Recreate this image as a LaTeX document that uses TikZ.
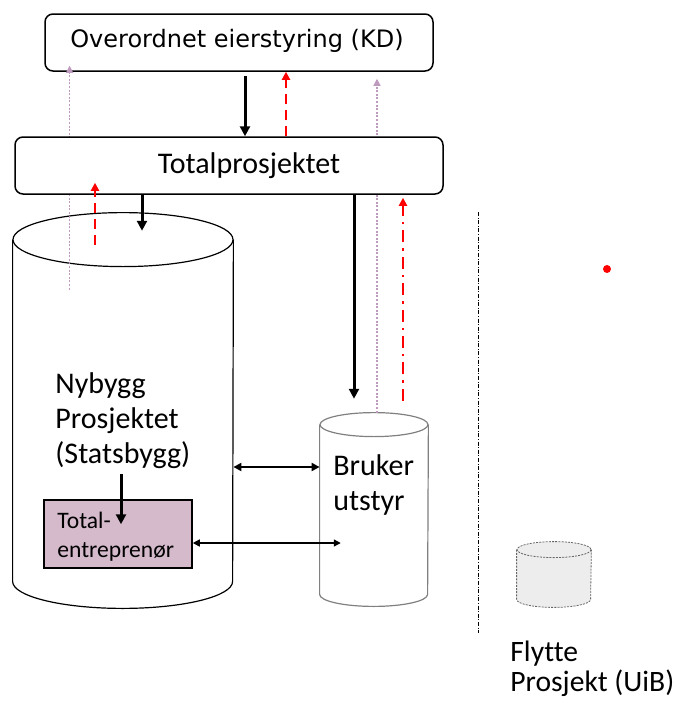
\documentclass[tikz,border=0pt]{standalone}
\usepackage{fontspec}
\setmainfont[Ligatures=NoCommon]{Carlito}
\newfontfamily\kdfont{DejaVu Sans}
\usetikzlibrary{arrows.meta}
\definecolor{infocol}{HTML}{BE9ABE}
\definecolor{tecol}{HTML}{D5BACC}

\begin{document}
\begin{tikzpicture}[x=0.5pt, y=-0.5pt,
  box/.style={draw, rounded corners=4pt, fill=white, line width=0.75pt, inner sep=0pt},
  flow/.style={line width=1.5pt, -{Triangle[length=5pt,width=5pt]}},
  back/.style={red, line width=1.2pt, dash pattern=on 5pt off 3pt, -{Triangle[length=4pt,width=4pt]}},
  backdot/.style={red, line width=1.2pt, dash pattern=on 6pt off 3pt on 1.2pt off 3pt, -{Triangle[length=4pt,width=4pt]}},
  info/.style={color=infocol, line width=0.6pt, dash pattern=on 1pt off 0.8pt, -{Triangle[length=3.5pt,width=3.5pt]}},
  link/.style={line width=1pt, {Triangle[length=4pt,width=4pt]}-{Triangle[length=4pt,width=4pt]}},
  drum/.style={inner sep=0pt},
  txt/.style={anchor=west, align=left, inner sep=0pt}]

\useasboundingbox (0,0) rectangle (680,708);

% cylinders
\node[drum, minimum width=110pt, minimum height=170.5pt] (ny) at (123,410.5) {};
\draw[line width=0.6pt, fill=white] (ny.north west) -- (ny.south west)
    arc[start angle=180, end angle=0, x radius=110, y radius=27] -- (ny.north east);
\draw[line width=0.6pt, fill=white] (ny.north) ellipse [x radius=110, y radius=27];

\node[drum, minimum width=54pt, minimum height=84.5pt] (bu) at (374,509.5) {};
\draw[gray, line width=0.6pt, fill=white] (bu.north west) -- (bu.south west)
    arc[start angle=180, end angle=0, x radius=54, y radius=12] -- (bu.north east);
\draw[gray, line width=0.6pt, fill=white] (bu.north) ellipse [x radius=54, y radius=12];

\node[drum, minimum width=37pt, minimum height=24.5pt] (uib) at (554,574.5) {};
\draw[black!60, line width=0.4pt, dash pattern=on 1pt off 0.6pt, fill=black!7] (uib.north west) -- (uib.south west)
    arc[start angle=180, end angle=0, x radius=37, y radius=8] -- (uib.north east);
\draw[black!60, line width=0.4pt, dash pattern=on 1pt off 0.6pt, fill=black!7] (uib.north) ellipse [x radius=37, y radius=8];

\node[draw, fill=tecol, line width=0.75pt, minimum width=74pt, minimum height=34pt, inner sep=0pt] (te) at (118,534) {};

% boxes and lines
\node[box, minimum width=194pt, minimum height=28.5pt] (kd) at (239,42.5) {};
\node[font=\kdfont\fontsize{12}{14}\selectfont, inner sep=0pt] (kdtxt) at (237,41) {Overordnet eierstyring (KD)};

\draw[info] ([xshift=28.5pt,yshift=-25pt]ny.north west) coordinate (a0) -- ([yshift=3pt]kd.south -| a0);
\draw[info] ([xshift=1.5pt,yshift=6pt]bu.north) coordinate (b0) -- ([yshift=-3.5pt]kd.south -| b0);

\node[box, minimum width=214pt, minimum height=28.5pt] (tp) at (229,165.5) {};
\node[font=\fontsize{15}{18}\selectfont, inner sep=0pt] (tptxt) at (249,166) {Totalprosjektet};

\draw[flow] ([xshift=3pt,yshift=-2pt]kd.south) -- ([xshift=3pt]kd.south |- tp.north);
\draw[back] ([xshift=23.5pt]kd.south |- tp.north) -- ([xshift=23.5pt]kd.south);
\draw[flow] ([xshift=-43.5pt]tp.south) -- ++(0,36);
\draw[back] ([xshift=-67pt]tp.south) ++(0,50) -- ++(0,-62);
\draw[flow] ([xshift=62.5pt]tp.south) -- ++(0,204);
\draw[backdot] ([xshift=87pt]tp.south) ++(0,206) -- ++(0,-203);

% texts
\node[txt, font=\fontsize{15}{17.5}\selectfont] (nytxt) at (55,421) {Nybygg\\Prosjektet\\(Statsbygg)};
\node[txt, font=\fontsize{15}{17.5}\selectfont] (butxt) at (333,485) {Bruker\\utstyr};
\node[txt, font=\fontsize{11.8}{14.5}\selectfont] (tetxt) at (57,537) {Total-\\entreprenør};
\node[txt, font=\fontsize{14.8}{15}\selectfont] (uibtxt) at (510,669) {Flytte\\Prosjekt (UiB)};

\draw[flow] ([xshift=1.5pt]te.north) ++(0,-25) -- ++(0,50);
\draw[link] ([yshift=-28.25pt]ny.east) -- ([yshift=-28.25pt]ny.east -| bu.west);
\draw[line width=0.7pt, {Triangle[length=3.5pt,width=3.5pt]}-{Triangle[length=3.5pt,width=3.5pt]}] ([yshift=-4.5pt]te.east) -- ++(148,0);

% divider and dot
\draw[line width=0.5pt, dash pattern=on 2pt off 0.8pt on 0.5pt off 0.8pt] (478,212) -- (478,633);
\fill[red] (607,269) circle (2pt);

\end{tikzpicture}
\end{document}
